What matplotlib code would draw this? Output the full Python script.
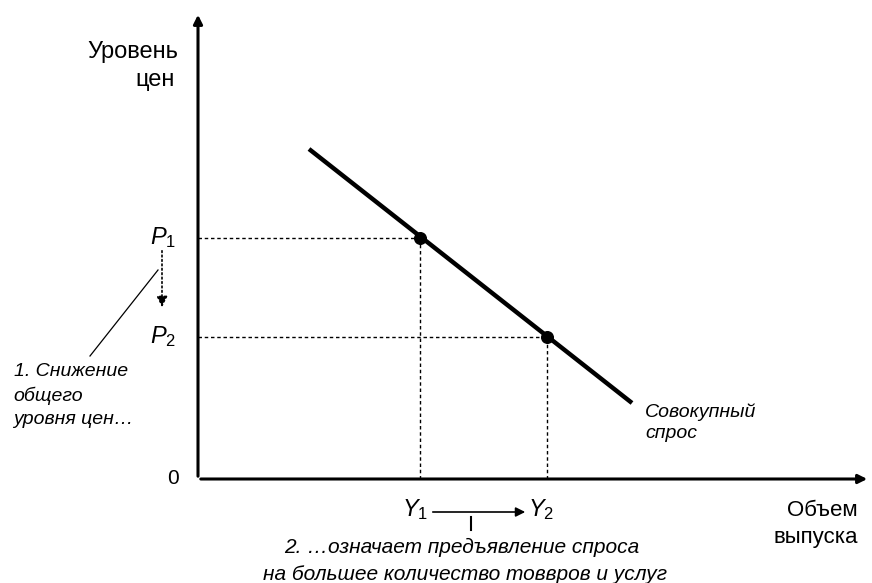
import matplotlib.pyplot as plt

plt.rcParams['font.family'] = ['Liberation Sans', 'DejaVu Sans']
plt.rcParams['mathtext.fontset'] = 'custom'
plt.rcParams['mathtext.it'] = 'Liberation Sans:italic'
plt.rcParams['mathtext.rm'] = 'Liberation Sans'

# demand curve end points and the two equilibrium points (arbitrary units)
curve_x = [11.1, 43.4]
curve_y = [33.0, 7.6]
point_x = [22.2, 34.9]
point_y = [24.1, 14.2]
point_labels_x = ['$Y_1$', '$Y_2$']
point_labels_y = ['$P_1$', '$P_2$']
x_max, y_max = 67.2, 46.7

fig = plt.figure(figsize=(8.72, 5.83), dpi=100)
ax = fig.add_axes([0, 0, 1, 1])
ax.set_xlim(-19.8, 67.4)
ax.set_ylim(-10.4, 47.9)
ax.axis('off')

# axes with arrows
ax.annotate('', xy=(0, y_max), xytext=(0, 0),
            arrowprops=dict(arrowstyle='-|>', color='black', lw=2.2, mutation_scale=13))
ax.annotate('', xy=(x_max, 0), xytext=(0, 0),
            arrowprops=dict(arrowstyle='-|>', color='black', lw=2.2, mutation_scale=13))

# aggregate demand line
ax.plot(curve_x, curve_y, color='black', lw=3.2, solid_capstyle='butt')
ax.scatter(point_x, point_y, s=70, color='black', zorder=3)

# dashed guides
for px, py in zip(point_x, point_y):
    ax.plot([0, px], [py, py], color='black', lw=1.0, ls=(0, (2.5, 2)))
    ax.plot([px, px], [0, py], color='black', lw=1.0, ls=(0, (2.5, 2)))

# axis labels
ax.text(-2.0, 42.7, 'Уровень', ha='right', va='center', fontsize=17)
ax.text(-2.3, 39.9, 'цен', ha='right', va='center', fontsize=17)
ax.text(-2.5, 0, '0', ha='center', va='center', fontsize=15)
ax.text(66.0, -3.1, 'Объем', ha='right', va='center', fontsize=16)
ax.text(66.0, -5.8, 'выпуска', ha='right', va='center', fontsize=16)

# P labels and shift arrow
for lab, py in zip(point_labels_y, point_y):
    ax.text(-3.5, py, lab, ha='center', va='center', fontsize=17)
ax.annotate('', xy=(-3.6, 16.9), xytext=(-3.6, 23.1),
            arrowprops=dict(arrowstyle='-|>', color='black', lw=1.2, ls=':',
                            mutation_scale=16))
ax.plot([-4.0, -10.8], [20.9, 12.3], color='black', lw=0.9)
ax.text(-18.4, 10.7, '1. Снижение', ha='left', va='center', fontsize=14, style='italic')
ax.text(-18.5, 8.3, 'общего', ha='left', va='center', fontsize=14, style='italic')
ax.text(-18.5, 5.9, 'уровня цен…', ha='left', va='center', fontsize=14, style='italic')

# Y labels and shift arrow
ax.text(23.0, -3.1, point_labels_x[0], ha='right', va='center', fontsize=17)
ax.text(33.0, -3.1, point_labels_x[1], ha='left', va='center', fontsize=17)
ax.annotate('', xy=(33.0, -3.3), xytext=(23.2, -3.3),
            arrowprops=dict(arrowstyle='-|>', color='black', lw=1.2, mutation_scale=14))
ax.plot([27.3, 27.3], [-3.8, -5.1], color='black', lw=1.5)
ax.text(26.4, -6.8, '2. …означает предъявление спроса', ha='center', va='center',
        fontsize=15, style='italic')
ax.text(26.7, -9.5, 'на большее количество товвров и услуг', ha='center', va='center',
        fontsize=15, style='italic')

# curve label
ax.text(44.7, 6.7, 'Совокупный', ha='left', va='center', fontsize=14, style='italic')
ax.text(44.7, 4.6, 'спрос', ha='left', va='center', fontsize=14, style='italic')

fig.savefig('out.png', dpi=100)
